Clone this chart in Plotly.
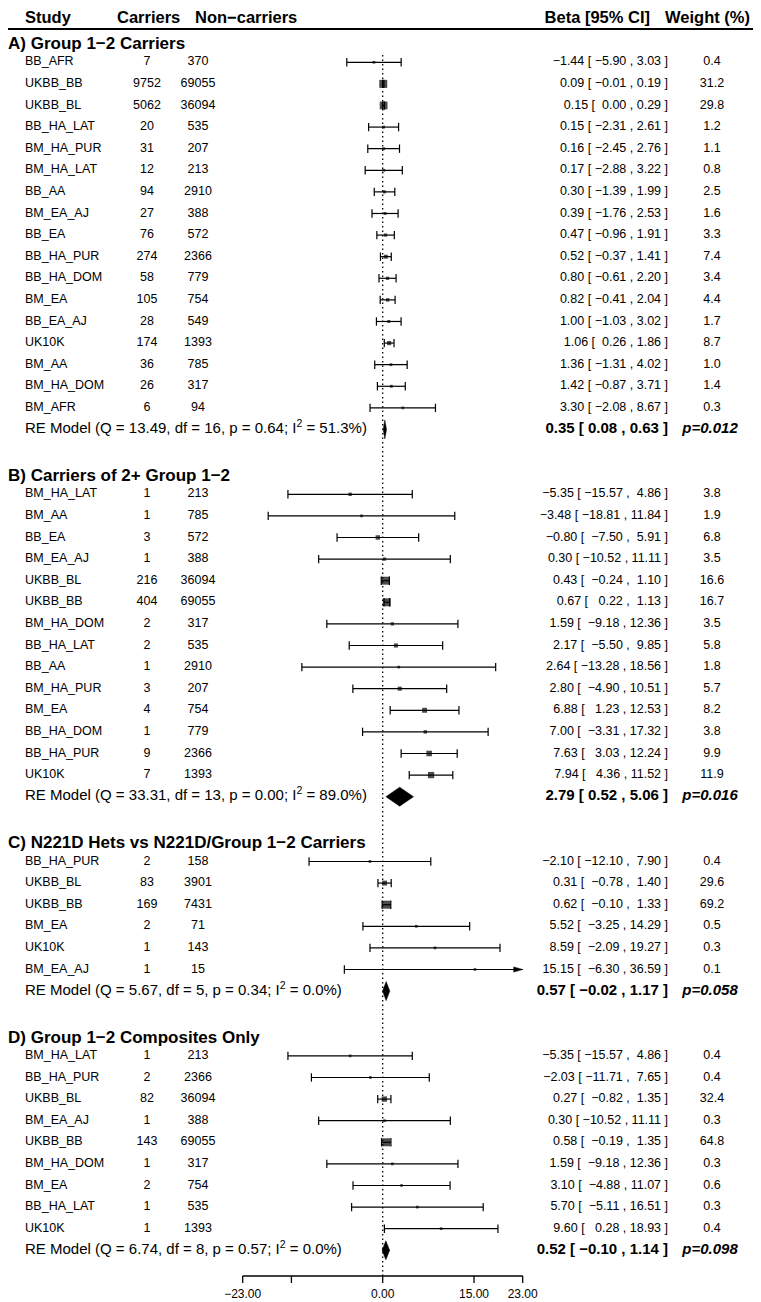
import plotly.graph_objects as go

# A) Group 1-2 carriers
a_study = ["BB_AFR", "UKBB_BB", "UKBB_BL", "BB_HA_LAT", "BM_HA_PUR", "BM_HA_LAT", "BB_AA", "BM_EA_AJ",
           "BB_EA", "BB_HA_PUR", "BB_HA_DOM", "BM_EA", "BB_EA_AJ", "UK10K", "BM_AA", "BM_HA_DOM", "BM_AFR"]
a_carr = [7, 9752, 5062, 20, 31, 12, 94, 27, 76, 274, 58, 105, 28, 174, 36, 26, 6]
a_nonc = [370, 69055, 36094, 535, 207, 213, 2910, 388, 572, 2366, 779, 754, 549, 1393, 785, 317, 94]
a_beta = [-1.44, 0.09, 0.15, 0.15, 0.16, 0.17, 0.30, 0.39, 0.47, 0.52, 0.80, 0.82, 1.00, 1.06, 1.36, 1.42, 3.30]
a_lo = [-5.90, -0.01, 0.00, -2.31, -2.45, -2.88, -1.39, -1.76, -0.96, -0.37, -0.61, -0.41, -1.03, 0.26, -1.31, -0.87, -2.08]
a_hi = [3.03, 0.19, 0.29, 2.61, 2.76, 3.22, 1.99, 2.53, 1.91, 1.41, 2.20, 2.04, 3.02, 1.86, 4.02, 3.71, 8.67]
a_wt = [0.4, 31.2, 29.8, 1.2, 1.1, 0.8, 2.5, 1.6, 3.3, 7.4, 3.4, 4.4, 1.7, 8.7, 1.0, 1.4, 0.3]
a_re = [0.35, 0.08, 0.63]
a_re_p = "0.012"
a_het = ["13.49", "16", "0.64", "51.3"]

# B) Carriers of 2+ group 1-2
b_study = ["BM_HA_LAT", "BM_AA", "BB_EA", "BM_EA_AJ", "UKBB_BL", "UKBB_BB", "BM_HA_DOM", "BB_HA_LAT",
           "BB_AA", "BM_HA_PUR", "BM_EA", "BB_HA_DOM", "BB_HA_PUR", "UK10K"]
b_carr = [1, 1, 3, 1, 216, 404, 2, 2, 1, 3, 4, 1, 9, 7]
b_nonc = [213, 785, 572, 388, 36094, 69055, 317, 535, 2910, 207, 754, 779, 2366, 1393]
b_beta = [-5.35, -3.48, -0.80, 0.30, 0.43, 0.67, 1.59, 2.17, 2.64, 2.80, 6.88, 7.00, 7.63, 7.94]
b_lo = [-15.57, -18.81, -7.50, -10.52, -0.24, 0.22, -9.18, -5.50, -13.28, -4.90, 1.23, -3.31, 3.03, 4.36]
b_hi = [4.86, 11.84, 5.91, 11.11, 1.10, 1.13, 12.36, 9.85, 18.56, 10.51, 12.53, 17.32, 12.24, 11.52]
b_wt = [3.8, 1.9, 6.8, 3.5, 16.6, 16.7, 3.5, 5.8, 1.8, 5.7, 8.2, 3.8, 9.9, 11.9]
b_re = [2.79, 0.52, 5.06]
b_re_p = "0.016"
b_het = ["33.31", "13", "0.00", "89.0"]

# C) N221D hets vs N221D/group 1-2 carriers
c_study = ["BB_HA_PUR", "UKBB_BL", "UKBB_BB", "BM_EA", "UK10K", "BM_EA_AJ"]
c_carr = [2, 83, 169, 2, 1, 1]
c_nonc = [158, 3901, 7431, 71, 143, 15]
c_beta = [-2.10, 0.31, 0.62, 5.52, 8.59, 15.15]
c_lo = [-12.10, -0.78, -0.10, -3.25, -2.09, -6.30]
c_hi = [7.90, 1.40, 1.33, 14.29, 19.27, 36.59]
c_wt = [0.4, 29.6, 69.2, 0.5, 0.3, 0.1]
c_re = [0.57, -0.02, 1.17]
c_re_p = "0.058"
c_het = ["5.67", "5", "0.34", "0.0"]

# D) Group 1-2 composites only
d_study = ["BM_HA_LAT", "BB_HA_PUR", "UKBB_BL", "BM_EA_AJ", "UKBB_BB", "BM_HA_DOM", "BM_EA", "BB_HA_LAT", "UK10K"]
d_carr = [1, 2, 82, 1, 143, 1, 2, 1, 1]
d_nonc = [213, 2366, 36094, 388, 69055, 317, 754, 535, 1393]
d_beta = [-5.35, -2.03, 0.27, 0.30, 0.58, 1.59, 3.10, 5.70, 9.60]
d_lo = [-15.57, -11.71, -0.82, -10.52, -0.19, -9.18, -4.88, -5.11, 0.28]
d_hi = [4.86, 7.65, 1.35, 11.11, 1.35, 12.36, 11.07, 16.51, 18.93]
d_wt = [0.4, 0.4, 32.4, 0.3, 64.8, 0.3, 0.6, 0.3, 0.4]
d_re = [0.52, -0.10, 1.14]
d_re_p = "0.098"
d_het = ["6.74", "8", "0.57", "0.0"]

section_titles = ["A) Group 1\u22122 Carriers", "B) Carriers of 2+ Group 1\u22122",
                  "C) N221D Hets vs N221D/Group 1\u22122 Carriers", "D) Group 1\u22122 Composites Only"]

axis_ticks = [-23, -15, 0, 15, 23]
axis_labels = ["\u221223.00", "", "0.00", "15.00", "23.00"]
alim = (-23, 23)

FONT = "Liberation Sans, Arial, Helvetica, sans-serif"
PAGE_W, PAGE_H = 761, 1302
OFF = 8                         # body margin of the html page
X0_PX, PX_UNIT = 382.7, 6.087   # page pixel of beta=0 and pixels per unit
TOP_PX, ROW_PX = 45, 21.6       # page pixel of first section header, pixels per row
NB = "\u00a0"


def px_x(px):
    return (px - X0_PX) / PX_UNIT


def px_y(px):
    return (px - TOP_PX) / ROW_PX


def num(v):
    return f"{v:.2f}".replace("-", "\u2212")


def pad(s, w):
    return NB * (w - len(s)) + s


fig = go.Figure()

# dotted reference line at 0
fig.add_trace(go.Scatter(x=[0, 0], y=[px_y(55), px_y(1276)], mode="lines",
                         line=dict(color="black", width=1.3, dash="1.5px,3px")))

sections = [
    (a_study, a_carr, a_nonc, a_beta, a_lo, a_hi, a_wt, a_re, a_re_p, a_het),
    (b_study, b_carr, b_nonc, b_beta, b_lo, b_hi, b_wt, b_re, b_re_p, b_het),
    (c_study, c_carr, c_nonc, c_beta, c_lo, c_hi, c_wt, c_re, c_re_p, c_het),
    (d_study, d_carr, d_nonc, d_beta, d_lo, d_hi, d_wt, d_re, d_re_p, d_het),
]

txt = {}  # style key -> (ys, texts)


def put(key, y, t):
    txt.setdefault(key, ([], []))
    txt[key][0].append(y)
    txt[key][1].append(t)


ci_x, ci_y, cap_x, cap_y = [], [], [], []
sq_x, sq_y, sq_s = [], [], []
y0 = 0.0
for title, (study, carr, nonc, beta, lo, hi, wt, re, re_p, het) in zip(section_titles, sections):
    put("sec", y0, f"<b>{title}</b>")
    wmin, wmax = min(wt), max(wt)
    w_lo = max(len(num(v)) for v in lo)
    w_hi = max(len(num(v)) for v in hi)
    for i in range(len(study)):
        y = y0 + 0.8 + i
        l, h = max(lo[i], alim[0]), min(hi[i], alim[1])
        ci_x += [l, h, None]
        ci_y += [y, y, None]
        if lo[i] >= alim[0]:
            cap_x.append(l); cap_y.append(y)
        if hi[i] <= alim[1]:
            cap_x.append(h); cap_y.append(y)
        else:
            # arrow head for truncated CI
            hl, hw = 9 / PX_UNIT, 2.6 / ROW_PX
            fig.add_trace(go.Scatter(x=[alim[1], alim[1] - hl, alim[1] - hl, alim[1]],
                                     y=[y, y - hw, y + hw, y], mode="lines", fill="toself",
                                     fillcolor="black", line=dict(color="black", width=0.5)))
        sq_x.append(beta[i]); sq_y.append(y)
        sq_s.append(2.7 + 5.3 * (wt[i] - wmin) / (wmax - wmin))
        put("name", y, study[i])
        put("carr", y, str(carr[i]))
        put("nonc", y, str(nonc[i]))
        put("ci", y, f"{num(beta[i])}{NB}[{NB}{pad(num(lo[i]), w_lo)}{NB},{NB}{pad(num(hi[i]), w_hi)}{NB}]")
        put("wt", y, f"{wt[i]:.1f}")
    yr = y0 + 0.8 + len(study)
    dh = 0.44
    fig.add_trace(go.Scatter(x=[re[1], re[0], re[2], re[0], re[1]], y=[yr, yr - dh, yr, yr + dh, yr],
                             mode="lines", fill="toself", fillcolor="black",
                             line=dict(color="black", width=0.5)))
    put("re_lab", yr, f"RE Model (Q = {het[0]}, df = {het[1]}, p = {het[2]}; I<sup>2</sup> = {het[3]}%)")
    put("re_ci", yr, f"<b>{num(re[0])} [ {num(re[1])} , {num(re[2])} ]</b>")
    put("re_p", yr, f"<b><i>p={re_p}</i></b>")
    y0 = yr + 2.2

fig.add_trace(go.Scatter(x=ci_x, y=ci_y, mode="lines", line=dict(color="black", width=1.2)))
fig.add_trace(go.Scatter(x=cap_x, y=cap_y, mode="markers",
                         marker=dict(symbol="line-ns", size=6, line=dict(color="black", width=1.2))))
fig.add_trace(go.Scatter(x=sq_x, y=sq_y, mode="markers",
                         marker=dict(symbol="square", size=sq_s, color="black", line=dict(width=0))))

# text columns: key -> (x page pixel, textposition, font size)
styles = {
    "sec": (OFF, "middle right", 17),
    "name": (25, "middle right", 12.5),
    "carr": (147, "middle center", 12.5),
    "nonc": (198, "middle center", 12.5),
    "ci": (668, "middle left", 12.5),
    "wt": (712, "middle center", 12.5),
    "re_lab": (25, "middle right", 15),
    "re_ci": (668, "middle left", 15),
    "re_p": (710, "middle center", 15),
}
for key, (ys, texts) in txt.items():
    xp, pos, size = styles[key]
    fig.add_trace(go.Scatter(x=[px_x(xp)] * len(ys), y=ys, text=texts, mode="text", textposition=pos,
                             textfont=dict(family=FONT, size=size, color="black")))

# column headers
hy = px_y(19)
headers = [(25, "middle right", "Study"), (117, "middle right", "Carriers"),
           (195, "middle right", "Non\u2212carriers"), (650, "middle left", "Beta [95% CI]"),
           (750, "middle left", "Weight (%)")]
for xp, pos, t in headers:
    fig.add_trace(go.Scatter(x=[px_x(xp)], y=[hy], text=[f"<b>{t}</b>"], mode="text", textposition=pos,
                             textfont=dict(family=FONT, size=16.5, color="black")))
fig.add_trace(go.Scatter(x=[px_x(OFF), px_x(PAGE_W)], y=[px_y(29)] * 2, mode="lines",
                         line=dict(color="black", width=2)))

# bottom axis
ay = px_y(1276)
tl = 7 / ROW_PX
tx, ty = [], []
for t in axis_ticks:
    tx += [t, t, None]
    ty += [ay, ay + tl, None]
fig.add_trace(go.Scatter(x=[alim[0], alim[1]] + [None] + tx, y=[ay, ay] + [None] + ty, mode="lines",
                         line=dict(color="black", width=1.3)))
lab_x = [t for t, s in zip(axis_ticks, axis_labels) if s]
lab_t = [s for s in axis_labels if s]
fig.add_trace(go.Scatter(x=lab_x, y=[px_y(1295)] * len(lab_x), text=lab_t, mode="text",
                         textposition="middle center", textfont=dict(family=FONT, size=12, color="black")))

fig.update_layout(
    width=PAGE_W - OFF, height=PAGE_H - OFF,
    margin=dict(l=0, r=0, t=0, b=0),
    plot_bgcolor="white", paper_bgcolor="white",
    showlegend=False, hovermode=False,
    xaxis=dict(visible=False, range=[px_x(OFF), px_x(PAGE_W)], fixedrange=True),
    yaxis=dict(visible=False, range=[px_y(PAGE_H), px_y(OFF)], fixedrange=True),
)

fig.write_html("out.html")
